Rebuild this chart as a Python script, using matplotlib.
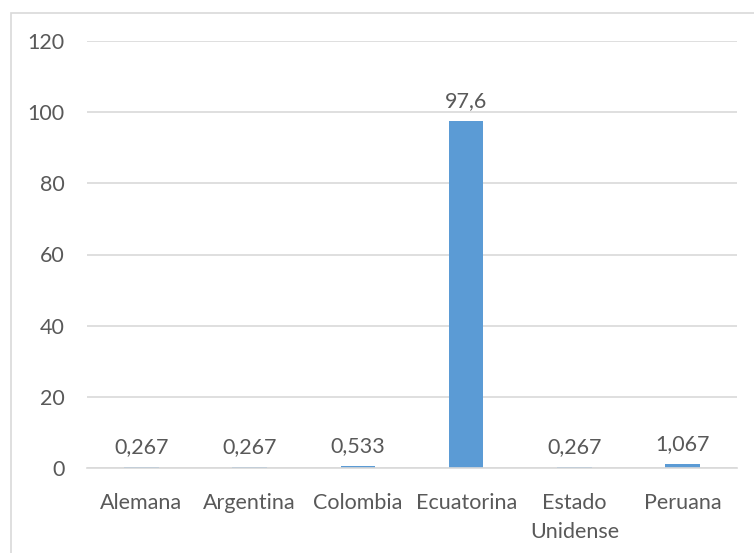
import matplotlib.pyplot as plt
from matplotlib.patches import Rectangle

# Data
categories = ["Alemana", "Argentina", "Colombia", "Ecuatorina", "Estado\nUnidense", "Peruana"]
values = [0.267, 0.267, 0.533, 97.6, 0.267, 1.067]
labels = ["0,267", "0,267", "0,533", "97,6", "0,267", "1,067"]
yticks = [0, 20, 40, 60, 80, 100, 120]

plt.rcParams['font.family'] = ['Lato', 'DejaVu Sans']
text_color = "#595959"
fs = 15.5

fig = plt.figure(figsize=(7.54, 5.53), dpi=100)
ax = fig.add_axes([87 / 754, 1 - 468 / 553, 650 / 754, 427 / 553])

# chart border like the Excel frame
fig.patches.append(Rectangle((11 / 754, -0.01), 1, 1 - 13 / 553 + 0.01, transform=fig.transFigure,
                             fill=False, edgecolor="#D9D9D9", linewidth=1.2))

x = range(len(categories))
bars = ax.bar(x, values, width=0.32, color="#5B9BD5", zorder=3)
for b, lab in zip(bars, labels):
    ax.annotate(lab, (b.get_x() + b.get_width() / 2, b.get_height()),
                xytext=(0, 7), textcoords="offset points", ha="center", va="bottom",
                fontsize=fs, color=text_color)

ax.set_xlim(-0.5, len(categories) - 0.5)
ax.set_ylim(0, 120)
ax.set_yticks(yticks)
ax.set_xticks(list(x))
ax.set_xticklabels(categories, linespacing=1.55)
ax.tick_params(axis="both", length=0, labelsize=fs, labelcolor=text_color)
ax.tick_params(axis="x", pad=18)
ax.tick_params(axis="y", pad=16)
ax.grid(axis="y", color="#D9D9D9", linewidth=1.2, zorder=0)
for s in ["top", "right", "left"]:
    ax.spines[s].set_visible(False)
ax.spines["bottom"].set_color("#D9D9D9")
ax.spines["bottom"].set_linewidth(1.2)
ax.spines["bottom"].set_zorder(4)

fig.savefig("out.png", dpi=100)
